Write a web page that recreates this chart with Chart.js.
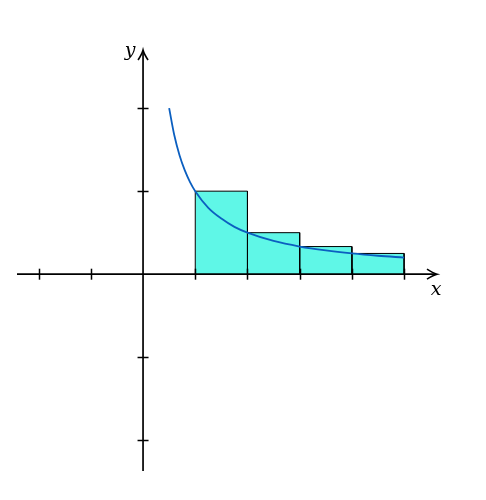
<!DOCTYPE html>
<html>
<head>
<meta charset="utf-8">
<script src="https://cdn.jsdelivr.net/npm/chart.js@4"></script>
<style>
  body { margin: 0; background: #fff; }
  canvas { display: block; }
</style>
</head>
<body>
<canvas id="plot" width="486" height="500"></canvas>
<script>
// rectangles: left edge, right edge, height
const barLeft = [1, 2, 3, 4];
const barRight = [2, 3, 4, 5];
const barHeight = [1, 0.5, 0.333, 0.25];

// curve points
const curveX = [0.5, 0.6, 0.7, 0.8, 0.9, 1, 1.25, 1.5, 1.75, 2, 2.5, 3, 3.5, 4, 4.5, 5];
const curveY = [2, 1.67, 1.43, 1.25, 1.11, 1, 0.8, 0.67, 0.57, 0.5, 0.4, 0.333, 0.286, 0.25, 0.222, 0.2];

// tick marks on the axes
const xTicks = [-2, -1, 1, 2, 3, 4, 5];
const yTicks = [-2, -1, 1, 2];

const xRange = [-2.414, 5.63];
const yRange = [-2.37, 2.70];

const barSets = barLeft.map((a, i) => ({
  data: [
    { x: a, y: 0 },
    { x: a, y: barHeight[i] },
    { x: barRight[i], y: barHeight[i] },
    { x: barRight[i], y: 0 }
  ],
  showLine: true,
  fill: "origin",
  backgroundColor: "#5ff7e7",
  borderColor: "#000",
  borderWidth: 1,
  pointRadius: 0,
  tension: 0,
  order: 2
}));

const curveSet = {
  data: curveX.map((x, i) => ({ x, y: curveY[i] })),
  showLine: true,
  fill: false,
  borderColor: "#0b5fc0",
  borderWidth: 1.8,
  pointRadius: 0,
  cubicInterpolationMode: "monotone",
  order: 1
};

// axes through origin, with arrows and labels
const axesPlugin = {
  id: "axes",
  afterDatasetsDraw(chart) {
    const { ctx, chartArea: a } = chart;
    const xs = chart.scales.x, ys = chart.scales.y;
    const ox = xs.getPixelForValue(0), oy = ys.getPixelForValue(0);
    ctx.save();
    ctx.strokeStyle = "#000";
    ctx.fillStyle = "#000";
    ctx.lineWidth = 1.7;

    // x axis
    ctx.beginPath();
    ctx.moveTo(a.left, oy);
    ctx.lineTo(a.right - 1, oy);
    ctx.stroke();
    // y axis
    ctx.beginPath();
    ctx.moveTo(ox, a.bottom);
    ctx.lineTo(ox, a.top + 1);
    ctx.stroke();

    // arrow heads
    ctx.lineWidth = 1.6;
    ctx.beginPath();
    ctx.moveTo(a.right - 10, oy - 5);
    ctx.quadraticCurveTo(a.right - 4, oy - 1, a.right, oy);
    ctx.quadraticCurveTo(a.right - 4, oy + 1, a.right - 10, oy + 5);
    ctx.stroke();
    ctx.beginPath();
    ctx.moveTo(ox - 5, a.top + 10);
    ctx.quadraticCurveTo(ox - 1, a.top + 4, ox, a.top);
    ctx.quadraticCurveTo(ox + 1, a.top + 4, ox + 5, a.top + 10);
    ctx.stroke();

    // tick marks
    ctx.lineWidth = 1.5;
    xTicks.forEach(v => {
      const px = Math.round(xs.getPixelForValue(v)) + 0.5;
      ctx.beginPath();
      ctx.moveTo(px, oy - 5.5);
      ctx.lineTo(px, oy + 5.5);
      ctx.stroke();
    });
    yTicks.forEach(v => {
      const py = Math.round(ys.getPixelForValue(v)) + 0.5;
      ctx.beginPath();
      ctx.moveTo(ox - 5.5, py);
      ctx.lineTo(ox + 5.5, py);
      ctx.stroke();
    });

    // axis labels
    ctx.font = "italic 19px 'DejaVu Serif', 'Liberation Serif', serif";
    ctx.textAlign = "center";
    ctx.textBaseline = "middle";
    ctx.fillText("y", ox - 13, a.top + 1);
    ctx.fillText("x", a.right - 1, oy + 16);
    ctx.restore();
  }
};

new Chart(document.getElementById("plot").getContext("2d"), {
  type: "scatter",
  data: { datasets: [curveSet, ...barSets] },
  options: {
    responsive: false,
    animation: false,
    layout: { padding: { left: 17, right: 49, top: 50, bottom: 29 } },
    plugins: { legend: { display: false }, tooltip: { enabled: false } },
    scales: {
      x: { type: "linear", min: xRange[0], max: xRange[1], display: false },
      y: { type: "linear", min: yRange[0], max: yRange[1], display: false }
    }
  },
  plugins: [axesPlugin]
});
</script>
</body>
</html>
